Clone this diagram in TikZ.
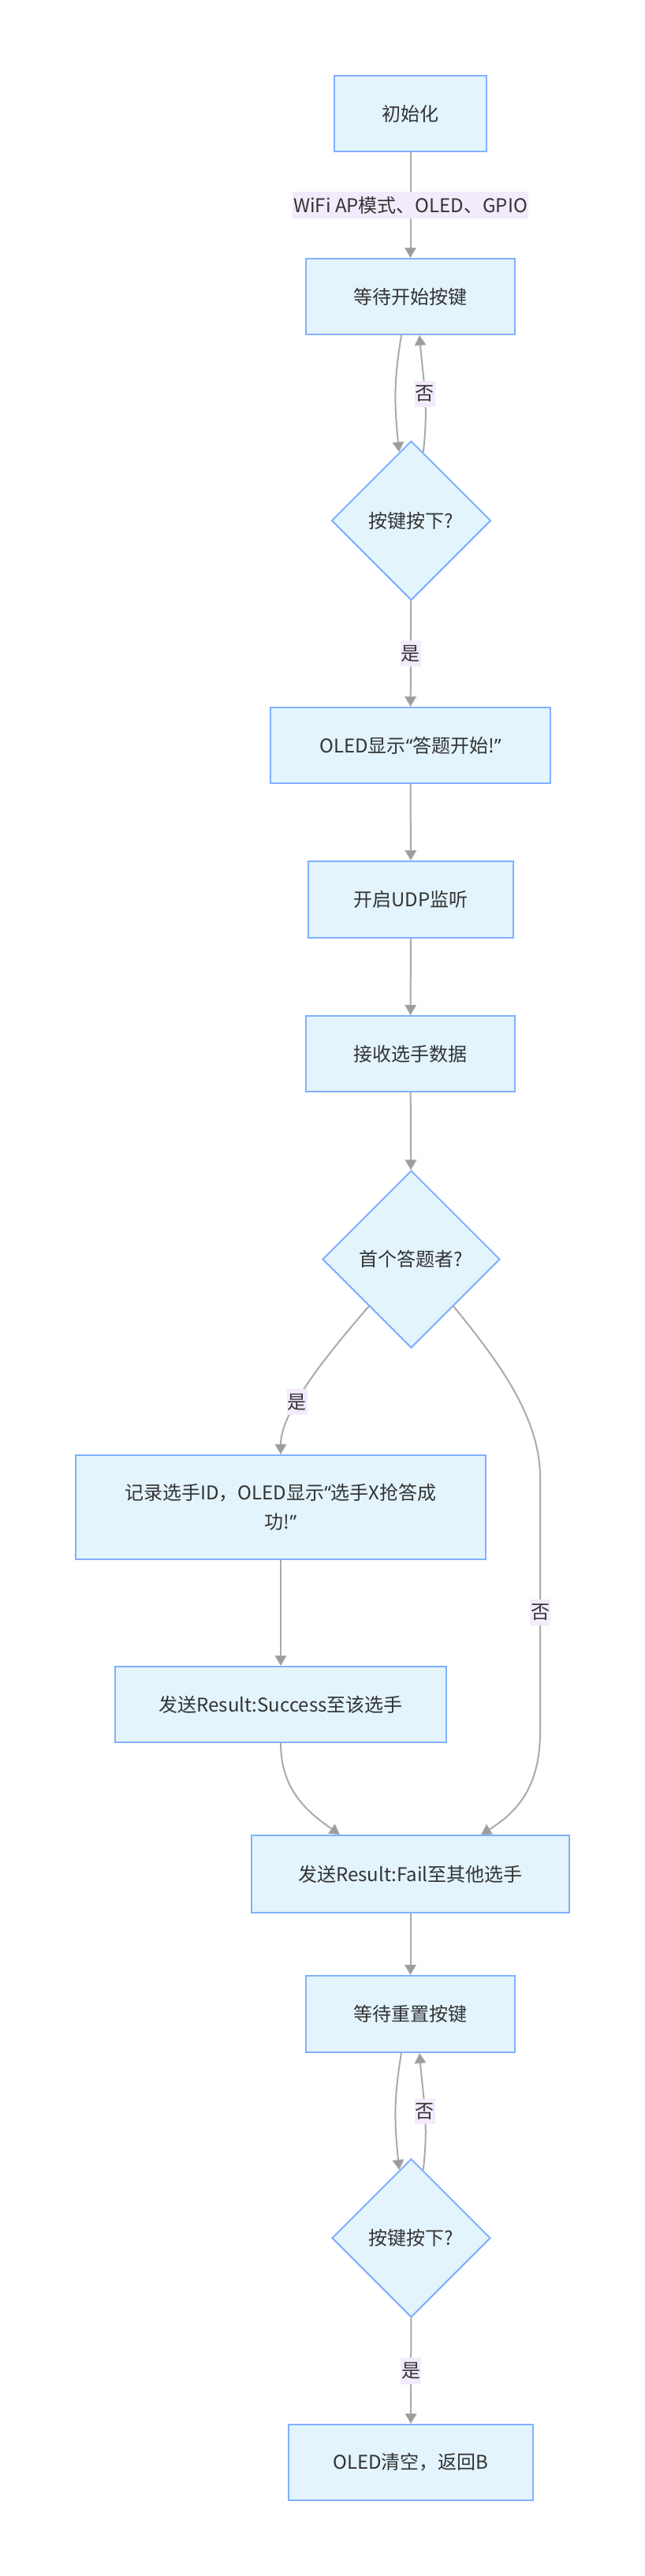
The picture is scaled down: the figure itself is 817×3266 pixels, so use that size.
\documentclass[tikz,border=0pt]{standalone}
\usepackage{fontspec}
\setmainfont{Noto Sans CJK SC}
\newfontfamily\quoteFont{Noto Sans}
\usepackage{tikz}
\usetikzlibrary{shapes.geometric, arrows.meta}
\definecolor{boxFill}{HTML}{E3F4FD}
\definecolor{boxLine}{HTML}{82B0FF}
\definecolor{labelFill}{HTML}{F3EBFC}
\definecolor{edgeColor}{HTML}{AAAAAA}
\definecolor{tipColor}{HTML}{9C9C9C}
\definecolor{textColor}{HTML}{333333}
\tikzstyle{chart} = [x = 1pt, y = -1pt]
\tikzstyle{processStyle} = [draw=boxLine, fill=boxFill, line width=2pt, text=textColor, inner sep=0pt, align=center, font=\fontsize{24}{37}\selectfont]
\tikzstyle{decisionStyle} = [diamond, aspect=1, draw=boxLine, fill=boxFill, line width=2pt, text=textColor, inner sep=0pt, font=\fontsize{24}{30}\selectfont]
\tikzstyle{edgeLine} = [draw=edgeColor, line width=2pt, -{Triangle[width=15pt, length=13pt, line width=1pt, fill=tipColor]}]
\tikzstyle{edgeLabel} = [fill=labelFill, text=textColor, inner xsep=1pt, inner ysep=6pt, font=\fontsize{24}{30}\selectfont]
\newcommand{\openQuote}{{\quoteFont “}}
\newcommand{\closeQuote}{{\quoteFont ”}}
\newcommand{\processNode}[6]{\node [processStyle, minimum width=#4pt, minimum height=#5pt] (#1) at (#2, #3) {#6};}
\newcommand{\decisionNode}[5]{\node [decisionStyle, minimum width=#4pt, minimum height=#4pt] (#1) at (#2, #3) {#5};}

\begin{document}
\begin{tikzpicture}[chart]
\useasboundingbox (0, 0) rectangle (817, 3266);
\processNode{init}{520.5}{144}{193}{96}{初始化}
\processNode{waitStart}{520.5}{376}{265}{96}{等待开始按键}
\decisionNode{keyCheckA}{521.5}{660}{202}{按键按下?}
\processNode{oledStart}{520.5}{945}{355}{96}{OLED显示\openQuote 答题开始!\closeQuote}
\processNode{udpListen}{521}{1140.5}{260}{97}{开启UDP监听}
\processNode{recvData}{520.5}{1336}{265}{96}{接收选手数据}
\decisionNode{firstCheck}{521.5}{1596.5}{225}{首个答题者?}
\processNode{recordId}{356}{1911}{520}{132}{记录选手ID，OLED显示\openQuote 选手X抢答成\\功!\closeQuote}
\processNode{sendSuccess}{356}{2161}{420}{96}{发送Result:Success至该选手}
\processNode{sendFail}{520.5}{2376}{403}{98}{发送Result:Fail至其他选手}
\processNode{waitReset}{520.5}{2553.5}{265}{97}{等待重置按键}
\decisionNode{keyCheckB}{521.5}{2837.5}{201}{按键按下?}
\processNode{oledClear}{521}{3122}{310}{96}{OLED清空，返回B}
\coordinate (noBendTop) at (685, 1873);
\coordinate (noBendLow) at (685, 2196);

\draw [edgeLine] (init) -- node [edgeLabel] {WiFi AP模式、OLED、GPIO} (waitStart);
\draw [edgeLine] ([xshift=-11.5pt]waitStart.south) .. controls +(-10, 60) and +(-6, -60) .. (keyCheckA.100);
\draw [edgeLine] (keyCheckA.80) .. controls +(7, -60) and +(5, 60) .. ([xshift=11.5pt]waitStart.south) node [edgeLabel, pos=0.5] {否};
\draw [edgeLine] (keyCheckA) -- node [edgeLabel] {是} (oledStart);
\draw [edgeLine] (oledStart) -- (udpListen);
\draw [edgeLine] (udpListen) -- (recvData);
\draw [edgeLine] (recvData) -- (firstCheck);
\draw [edgeLine] (firstCheck.-132) .. controls +(-65, 75) and +(0, -50) .. (recordId.north) node [edgeLabel, pos=0.6] {是};
\draw [edgeLine] (firstCheck.-48) .. controls +(50, 62) and +(0, -80) .. (noBendTop) -- (noBendLow) node [edgeLabel, pos=0.53] {否} .. controls +(0, 70) and +(45, -28) .. ([xshift=89.5pt]sendFail.north);
\draw [edgeLine] (recordId) -- (sendSuccess);
\draw [edgeLine] (sendSuccess.south) .. controls +(0, 60) and +(-40, -28) .. ([xshift=-89.5pt]sendFail.north);
\draw [edgeLine] (sendFail) -- (waitReset);
\draw [edgeLine] ([xshift=-11.5pt]waitReset.south) .. controls +(-10, 60) and +(-6, -60) .. (keyCheckB.100);
\draw [edgeLine] (keyCheckB.80) .. controls +(7, -60) and +(5, 60) .. ([xshift=11.5pt]waitReset.south) node [edgeLabel, pos=0.5] {否};
\draw [edgeLine] (keyCheckB) -- node [edgeLabel] {是} (oledClear);
\end{tikzpicture}
\end{document}
